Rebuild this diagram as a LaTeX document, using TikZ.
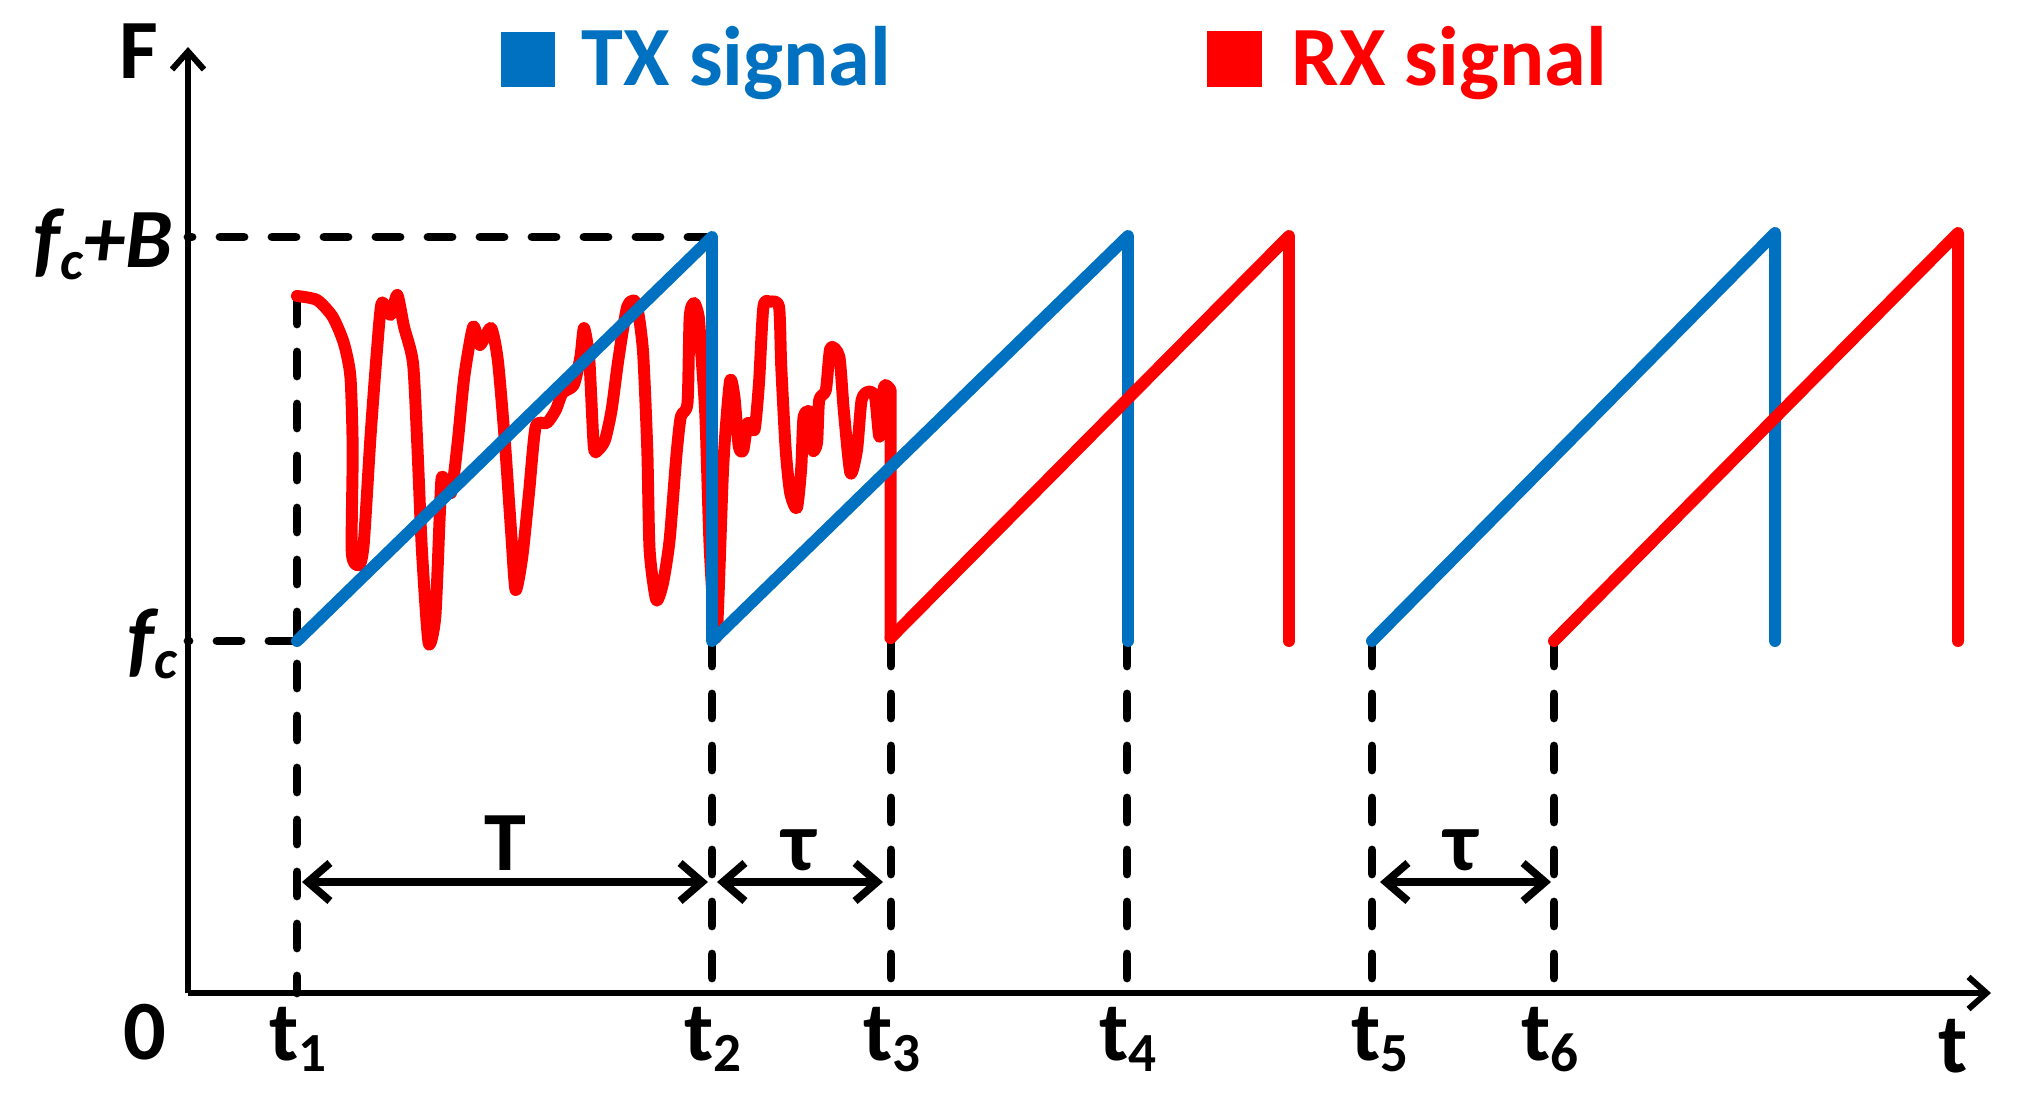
\documentclass[tikz,border=0pt]{standalone}
\usepackage{fontspec}
\setmainfont{Carlito}
\usetikzlibrary{arrows.meta}
\definecolor{txblue}{HTML}{0070C0}
\definecolor{rxred}{HTML}{FF0000}
\newcommand\sbs[1]{\raisebox{-3.4pt}{\fontsize{15.7}{16}\selectfont #1}}
\begin{document}
\begin{tikzpicture}[x=0.1mm,y=-0.1mm,
  axisline/.style={line width=1.7pt},
  guide/.style={line width=2.5pt,dash pattern=on 2.4mm off 2.8mm,line cap=round},
  txline/.style={line width=3.4pt,draw=txblue,line join=round,line cap=round},
  rxline/.style={line width=3.4pt,draw=rxred,line join=round,line cap=round},
  dimarrow/.style={line width=2.2pt,{Straight Barb[length=2.2mm,width=3.8mm]}-{Straight Barb[length=2.2mm,width=3.8mm]}},
  lbl/.style={font=\fontsize{24}{28}\selectfont\bfseries,inner sep=0pt},
]
\useasboundingbox (0,0) rectangle (2019,1099);

% axes
\coordinate (O) at (188,993);
\coordinate (ytop) at (188,47);
\coordinate (xend) at (1991,993);
\draw[axisline,-{Straight Barb[length=1.8mm,width=3.2mm]}] (O) -- (ytop);
\draw[axisline,-{Straight Barb[length=1.8mm,width=3.2mm]}] (O) -- (xend);

% guide lines
\draw[guide] (712,237) -- (188,237);
\draw[guide] (293,641) -- (188,641);
\draw[guide] (297,300) -- (297,993);
\draw[guide] (712,642) -- (712,993);
\draw[guide] (891,642) -- (891,993);
\draw[guide] (1127,642) -- (1127,993);
\draw[guide] (1372,642) -- (1372,993);
\draw[guide] (1554,642) -- (1554,993);

% RX noisy part
\draw[rxline] plot[smooth,tension=0.4] coordinates {
(297,296) (317,300) (332.6,316.7) (343.8,343) (350.4,376.7) (352.7,450) (351.8,553) (359.4,565) (363.8,543) (370.5,436.7) (377,350) (381.7,303) (390.6,315) (397.3,295) (404,326.7) (413,363) (417.4,446.7) (421.9,550) (428.6,643) (435.3,616.7) (439.7,516.7) (442,476.7) (451,493) (457.6,443) (464.3,376.7) (473.2,326.7) (479.9,345) (491,328) (497.8,360) (504.5,436.7) (511.2,533) (515.6,590) (522.3,556.7) (529,493) (535.7,426.7) (546.9,423) (555.8,410) (562.5,393) (573.7,385) (580.4,356.7) (584,328) (589.3,360) (593.8,446.7) (598.2,450) (605,440) (611.6,410) (618.3,360) (627.2,306.7) (636.2,303) (642.9,350) (647.3,450) (649.6,550) (656.25,600) (663,583) (669.6,540) (676.3,456.7) (680.8,416.7) (687.5,403) (689.7,316.7) (694.2,303) (698.7,316.7) (701,350) (705.4,416.7) (709.8,550) (716.5,636.7) (723.2,466.7) (729.9,381.7) (734.4,396.7) (738.8,446.7) (743.3,450) (747.8,423) (754.5,430) (759,383) (763.4,306.7) (770,301.7) (779,306.7) (781.25,366.7) (785.7,450) (790.2,493) (796.9,508) (801.3,466.7) (803.6,416.7) (810.3,413) (812.5,450) (817,443) (819.2,400) (825.9,390) (830.4,348) (839.3,356.7) (843.75,410) (850.4,473) (857,450) (861.6,400) (868.3,391.7) (875,396.7) (879.5,436.7) (884,386.7) (890.6,390)
} -- (890.6,638);

% TX signal
\draw[txline] (297,641) -- (712,237) -- (712,641) -- (1128,236) -- (1128,641);
\draw[txline] (1372,641) -- (1775,233) -- (1775,641);

% RX ramps
\draw[rxline] (890.6,638) -- (1289,236) -- (1289,641);
\draw[rxline] (1554,641) -- (1958,233) -- (1958,641);

% dimension arrows
\draw[dimarrow] (302,882) -- (708,882);
\draw[dimarrow] (717,882) -- (883,882);
\draw[dimarrow] (1380,882) -- (1551,882);

% legend
\fill[txblue] (501,32) rectangle (555,87);
\fill[rxred] (1207,31) rectangle (1262,87);
\node[lbl,text=txblue,anchor=base west] (txlab) at (581,86) {TX signal};
\node[lbl,text=rxred,anchor=base west] (rxlab) at (1291,86) {RX signal};

% labels
\node[lbl] (Flab) at (139,51) {F};
\node[lbl] (zero) at (145,1032) {0};
\node[lbl,anchor=base east] (fcB) at (173,268) {\itshape f\sbs{c}+B};
\node[lbl,anchor=base east] (fc) at (178,667) {\itshape f\sbs{c}};
\node[lbl] (Tlab) at (505,843) {T};
\node[lbl] (tau1) at (799,850) {τ};
\node[lbl] (tau2) at (1461,850) {τ};
\node[lbl,anchor=base] (t1) at (298,1060) {t\sbs{1}};
\node[lbl,anchor=base] (t2) at (713,1060) {t\sbs{2}};
\node[lbl,anchor=base] (t3) at (892,1060) {t\sbs{3}};
\node[lbl,anchor=base] (t4) at (1128,1060) {t\sbs{4}};
\node[lbl,anchor=base] (t5) at (1380,1060) {t\sbs{5}};
\node[lbl,anchor=base] (t6) at (1550,1060) {t\sbs{6}};
\node[lbl,anchor=base] (tlab) at (1953,1072) {t};
\end{tikzpicture}
\end{document}
